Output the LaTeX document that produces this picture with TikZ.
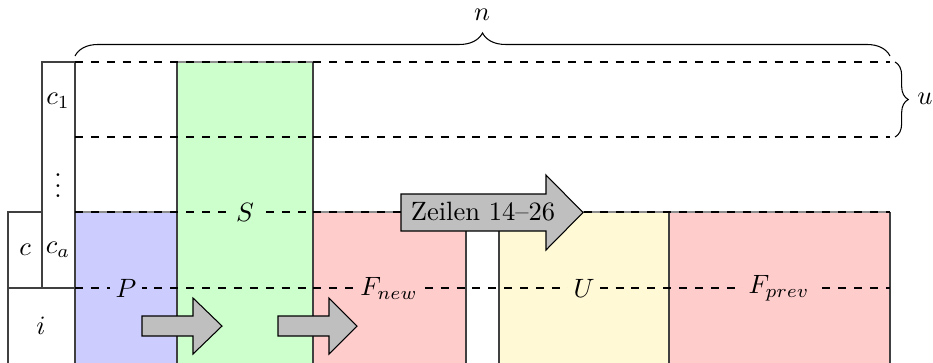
\documentclass[tikz,border=0pt]{standalone}
\usetikzlibrary{decorations.pathreplacing}
\definecolor{pcol}{RGB}{204,204,255}
\definecolor{scol}{RGB}{204,255,204}
\definecolor{fcol}{RGB}{255,204,204}
\definecolor{ucol}{RGB}{255,249,214}
\tikzset{
  colbox/.style={draw=black!75, line width=0.4pt},
  topedge/.style={draw=black!45, line width=0.4pt},
  dline/.style={dashed, line width=0.4pt},
  lab/.style={inner sep=2pt},
  garrow/.style={draw=black, fill=black!25, line width=0.4pt, line join=miter},
  bracestyle/.style={decorate, decoration={brace, amplitude=#1}},
}
\begin{document}
\begin{tikzpicture}[x=0.3774pt,y=-0.3774pt]
\useasboundingbox (0,0) rectangle (933,362);
% coloured columns
\fill[pcol] (75,212) rectangle (177,366);
\fill[scol] (177,62) rectangle (313,366);
\fill[fcol] (313,212) rectangle (466,366);
\fill[ucol] (499,212) rectangle (669,366);
\fill[fcol] (669,212) rectangle (890,366);
\draw[topedge] (75,212) -- (177,212);
\draw[topedge] (313,212) -- (466,212);
\draw[topedge] (499,212) -- (890,212);
\draw[topedge] (177,62) -- (313,62);
\draw[colbox] (75,366) -- (75,212);
\draw[colbox] (177,366) -- (177,62);
\draw[colbox] (313,62) -- (313,366);
\draw[colbox] (466,212) -- (466,366);
\draw[colbox] (499,366) -- (499,212);
\draw[colbox] (890,212) -- (890,366);
\draw[colbox] (669,212) -- (669,366);
% left boxes
\draw[colbox] (42,288) -- (42,62) -- (75,62) -- (75,288);
\draw[colbox] (8,288) -- (8,212) -- (42,212);
\draw[colbox] (8,366) -- (8,288) -- (75,288);
% dashed rows
\draw[dline] (75,62) -- (890,62);
\draw[dline] (75,137) -- (890,137);
\draw[dline] (75,212) -- (890,212);
\draw[dline] (75,288) -- (890,288);
% labels
\node[lab] (c1) at (58,101) {$c_1$};
\node[lab] (cd) at (58,178) {$\vdots$};
\node[lab] (ca) at (58,250) {$c_a$};
\node[lab] (c) at (25,250) {$c$};
\node[lab] (i) at (41,326) {$i$};
\node[lab, fill=pcol] (P) at (126,288) {$P$};
\node[lab, fill=scol] (S) at (245,212) {$S$};
\node[lab, fill=fcol] (Fn) at (389,288) {$F_{new}$};
\node[lab, fill=ucol] (U) at (584,288) {$U$};
\node[lab, fill=fcol] (Fp) at (779,288) {$F_{prev}$};
% braces
\draw[bracestyle=8.7pt] (75,56) -- (890,56);
\node (n) at (482,15) {$n$};
\draw[bracestyle=5pt] (895,62) -- (895,137);
\node (u) at (925,99) {$u$};
% arrows
\draw[garrow] (142,316) -- (193,316) -- (193,298) -- (222,326) -- (193,354) -- (193,336) -- (142,336) -- cycle;
\draw[garrow] (278,316) -- (329,316) -- (329,298) -- (357,326) -- (329,354) -- (329,336) -- (278,336) -- cycle;
\draw[garrow] (401,194) -- (546,194) -- (546,175) -- (583,212.5) -- (546,250) -- (546,231) -- (401,231) -- cycle;
\node (z) at (483,212) {Zeilen 14--26};
\end{tikzpicture}
\end{document}
